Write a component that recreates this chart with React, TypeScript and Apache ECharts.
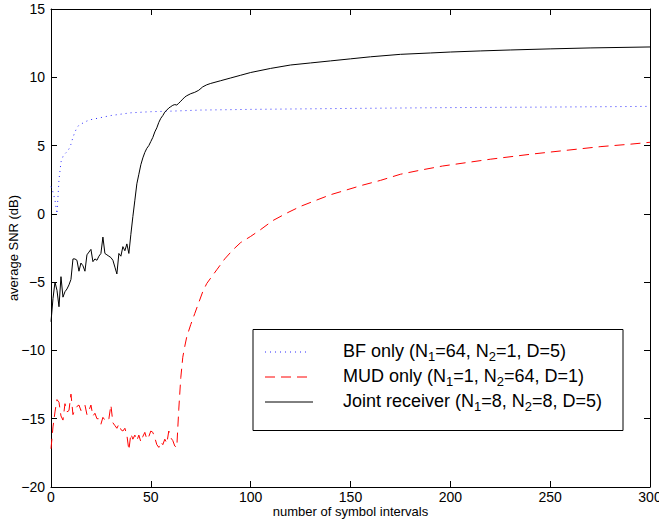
import React, { useEffect, useRef } from "react";
import * as echarts from "echarts";

// x = number of symbol intervals, y = average SNR (dB)
const bfData: [number, number][] = [
  [0, 2.0], [1, 1.6], [2, 1.0], [3, 0.0], [4, 2.5], [5, 3.8], [6, 4.2], [7, 4.4],
  [8, 4.55], [9, 4.75], [10, 5.1], [11, 5.6], [12, 6.0], [13, 6.3], [14, 6.5],
  [16, 6.65], [18, 6.8], [20, 6.9], [25, 7.05], [30, 7.2], [40, 7.4], [50, 7.48],
  [60, 7.52], [75, 7.6], [100, 7.65], [150, 7.72], [200, 7.78], [250, 7.82], [300, 7.87],
];

const mudData: [number, number][] = [
  [0, -17.2], [1, -15.6], [2, -14.5], [3, -13.6], [4, -13.8], [5, -14.8], [6, -15.1],
  [7, -13.9], [8, -14.5], [9, -14.4], [10, -13.2], [11, -14.7], [12, -14.3], [13, -14.1],
  [14, -14.0], [15, -14.4], [16, -14.2], [17, -14.0], [18, -14.7], [19, -14.4],
  [20, -14.0], [21, -14.8], [22, -14.6], [23, -15.0], [24, -15.0], [25, -15.4],
  [26, -14.9], [27, -15.1], [28, -15.2], [29, -15.0], [30, -14.0], [31, -15.3],
  [32, -15.5], [33, -15.7], [34, -15.4], [35, -15.8], [36, -15.9], [37, -15.7],
  [38, -16.2], [39, -17.3], [40, -16.1], [41, -16.5], [42, -16.2], [43, -16.6],
  [44, -16.2], [45, -16.7], [46, -16.3], [47, -16.0], [48, -16.5], [49, -16.3],
  [50, -15.9], [51, -16.0], [52, -16.4], [53, -16.9], [54, -17.1], [55, -16.7],
  [56, -16.9], [57, -16.5], [58, -16.8], [59, -15.9], [60, -16.4], [61, -16.6],
  [62, -17.0], [63, -17.1], [64, -14.3], [65, -12.0], [66, -10.5], [67, -9.7],
  [68, -9.0], [70, -8.1], [72, -7.3], [74, -6.5], [76, -5.7], [78, -5.1], [80, -4.7],
  [83, -4.1], [87, -3.3], [91, -2.65], [95, -2.1], [100, -1.65], [105, -1.15],
  [111, -0.5], [118, 0.05], [125, 0.55], [132, 0.95], [140, 1.4], [148, 1.75],
  [156, 2.1], [165, 2.45], [175, 2.9], [185, 3.2], [196, 3.5], [208, 3.75], [220, 4.0],
  [241, 4.38], [258, 4.65], [275, 4.92], [290, 5.1], [300, 5.24],
];

const jointData: [number, number][] = [
  [0, -7.9], [1, -6.2], [2, -5.0], [3, -5.6], [4, -6.8], [5, -4.6], [6, -6.1],
  [7, -5.7], [8, -5.5], [9, -5.2], [10, -4.8], [11, -3.3], [12, -3.3], [13, -3.4],
  [14, -4.2], [15, -3.6], [16, -3.8], [17, -4.2], [18, -3.0], [19, -2.8], [20, -2.6],
  [21, -3.5], [22, -3.3], [23, -3.4], [24, -3.1], [25, -2.9], [26, -1.7], [27, -2.9],
  [28, -3.0], [29, -3.1], [30, -3.2], [31, -3.4], [32, -3.9], [33, -4.4], [34, -2.9],
  [35, -3.1], [36, -2.4], [37, -2.7], [38, -2.2], [39, -2.9], [40, -1.5], [41, -0.2],
  [42, 1.0], [43, 2.2], [44, 2.9], [45, 3.6], [46, 4.1], [47, 4.5], [48, 4.8],
  [49, 5.0], [50, 5.3], [51, 5.6], [52, 6.0], [53, 6.3], [54, 6.7], [55, 7.0],
  [56, 7.2], [57, 7.45], [58, 7.6], [59, 7.75], [60, 7.85], [61, 7.95], [62, 8.0],
  [63, 7.97], [64, 8.1], [65, 8.25], [66, 8.4], [67, 8.55], [68, 8.65], [70, 8.8],
  [72, 8.9], [74, 9.05], [76, 9.3], [78, 9.45], [80, 9.55], [85, 9.75], [90, 9.95],
  [95, 10.15], [100, 10.35], [110, 10.65], [120, 10.9], [130, 11.05], [140, 11.2],
  [150, 11.35], [160, 11.5], [175, 11.68], [190, 11.78], [200, 11.85], [215, 11.93],
  [230, 12.0], [250, 12.08], [270, 12.15], [300, 12.22],
];

const seriesNames = [
  "BF only (N1=64, N2=1, D=5)",
  "MUD only (N1=1, N2=64, D=1)",
  "Joint receiver (N1=8, N2=8, D=5)",
];
const legendRich = [
  "BF only (N{s|1}=64, N{s|2}=1, D=5)",
  "MUD only (N{s|1}=1, N{s|2}=64, D=1)",
  "Joint receiver (N{s|1}=8, N{s|2}=8, D=5)",
];
const seriesColors = ["#2b2bff", "#ff0000", "#000000"];
const seriesDash: (number[] | "solid")[] = [[1, 4], [10, 6], "solid"];

const xLabel = "number of symbol intervals";
const yLabel = "average SNR (dB)";

const FONT = "'Liberation Sans', Arial, Helvetica, sans-serif";

export default function App() {
  const ref = useRef<HTMLDivElement>(null);
  useEffect(() => {
    if (!ref.current) return;
    const chart = echarts.init(ref.current, undefined, { renderer: "svg" });

    const axisCommon = {
      axisLine: { show: true, onZero: false, lineStyle: { color: "#000", width: 1 } },
      axisTick: { show: true, inside: true, length: 6, lineStyle: { color: "#000", width: 1 } },
      splitLine: { show: false },
    };

    const xBase = { type: "value", min: 0, max: 300, interval: 50 };
    const yBase = { type: "value", min: -20, max: 15, interval: 5 };

    const legendY = [352, 377, 402];
    const legendGraphics: any[] = [
      {
        type: "rect",
        shape: { x: 253, y: 329.5, width: 370, height: 101 },
        style: { fill: "#fff", stroke: "#000", lineWidth: 1 },
        z: 100,
      },
    ];
    legendRich.forEach((t, i) => {
      legendGraphics.push({
        type: "line",
        shape: { x1: 265, y1: legendY[i], x2: i === 2 ? 313 : 309, y2: legendY[i] },
        style: {
          stroke: seriesColors[i],
          lineWidth: 1,
          lineDash: seriesDash[i] === "solid" ? null : seriesDash[i],
        },
        z: 101,
      });
      legendGraphics.push({
        type: "text",
        x: 343,
        y: legendY[i] - 1,
        style: {
          text: t,
          fill: "#000",
          fontSize: 18,
          fontFamily: FONT,
          lineHeight: 24,
          verticalAlign: "middle",
          align: "left",
          rich: {
            s: { fontSize: 13, fontFamily: FONT, lineHeight: 8, verticalAlign: "bottom", fill: "#000" },
          },
        },
        z: 101,
      });
    });

    chart.setOption({
      animation: false,
      backgroundColor: "#fff",
      textStyle: { fontFamily: FONT },
      grid: { left: 51, right: 9, top: 9, bottom: 33, containLabel: false, outerBoundsMode: "none" },
      xAxis: [
        {
          ...xBase,
          ...axisCommon,
          position: "bottom",
          name: xLabel,
          nameLocation: "middle",
          nameGap: 18,
          nameMoveOverlap: false,
          nameTextStyle: { fontSize: 13, color: "#000", fontFamily: FONT },
          axisLabel: { fontSize: 14, color: "#000", margin: 3, fontFamily: FONT },
        },
        {
          ...xBase,
          ...axisCommon,
          position: "top",
          axisLabel: { show: false },
        },
      ],
      yAxis: [
        {
          ...yBase,
          ...axisCommon,
          position: "left",
          name: yLabel,
          nameLocation: "middle",
          nameGap: 31,
          nameMoveOverlap: false,
          nameTextStyle: { fontSize: 13, color: "#000", fontFamily: FONT },
          axisLabel: {
            fontSize: 14,
            color: "#000",
            margin: 6,
            fontFamily: FONT,
            formatter: (v: number) => (v < 0 ? "\u2212" + Math.abs(v) : String(v)),
          },
        },
        {
          ...yBase,
          ...axisCommon,
          position: "right",
          axisLabel: { show: false },
        },
      ],
      series: [bfData, mudData, jointData].map((d, i) => ({
        name: seriesNames[i],
        type: "line",
        data: d,
        xAxisIndex: 0,
        yAxisIndex: 0,
        showSymbol: false,
        symbol: "none",
        smooth: false,
        lineStyle: { color: seriesColors[i], width: 1, type: seriesDash[i] },
        itemStyle: { color: seriesColors[i] },
        emphasis: { disabled: true },
        silent: true,
      })),
      graphic: legendGraphics,
    });

    return () => chart.dispose();
  }, []);

  return (
    <div
      ref={ref}
      style={{ position: "fixed", left: 0, top: 0, width: 659, height: 520, background: "#fff" }}
    />
  );
}
